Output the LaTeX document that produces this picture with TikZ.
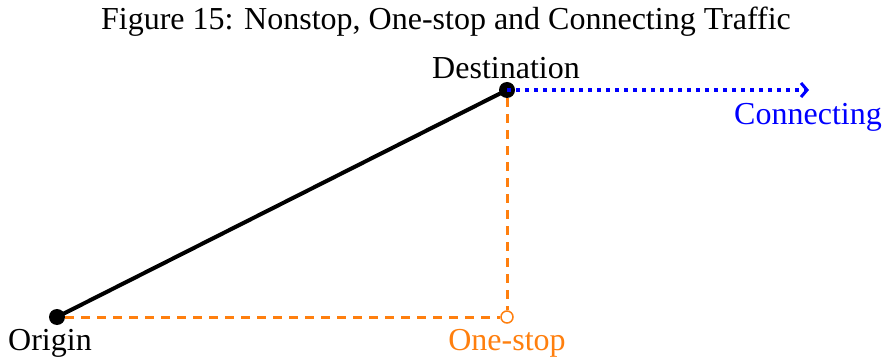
\documentclass[tikz,border=0pt]{standalone}
\usepackage{fontspec}
\setmainfont{Liberation Serif}
\usetikzlibrary{arrows.meta}
\definecolor{myorange}{RGB}{255,127,14}
\begin{document}
\begin{tikzpicture}[x=1pt,y=-1pt,
  lbl/.style={font=\fontsize{32}{37}\selectfont, inner sep=0pt},
  dot/.style={circle, fill=black, inner sep=0pt, minimum size=16pt},
  odot/.style={circle, draw=myorange, line width=1.5pt, inner sep=0pt, minimum size=12pt},
  nonstop/.style={line width=4pt, black},
  onestop/.style={line width=3pt, myorange, dash pattern=on 9pt off 7pt},
  conn/.style={line width=3.5pt, blue, dash pattern=on 3.5pt off 5.5pt, -{Straight Barb[length=6pt,width=14pt,line width=3pt]}}]
\useasboundingbox (0,0) rectangle (883,358);
\node[lbl] (title) at (446,22) {Figure 15: Nonstop, One-stop and Connecting Traffic};
\node[dot] (o) at (57,317) {};
\node[dot] (d) at (507,90) {};
\node[odot] (s) at (507,317) {};
\coordinate (c) at (809,90);
\draw[nonstop] (o.center) -- (d.center);
\draw[onestop] (o) -- (s);
\draw[onestop] (d) -- (s);
\draw[conn] (d.center) -- (c);
\node[lbl] (ol) at (50,343) {Origin};
\node[lbl, text=myorange] (sl) at (507,343) {One-stop};
\node[lbl] (dl) at (506,68) {Destination};
\node[lbl, text=blue] (cl) at (808,117) {Connecting};
\end{tikzpicture}
\end{document}
